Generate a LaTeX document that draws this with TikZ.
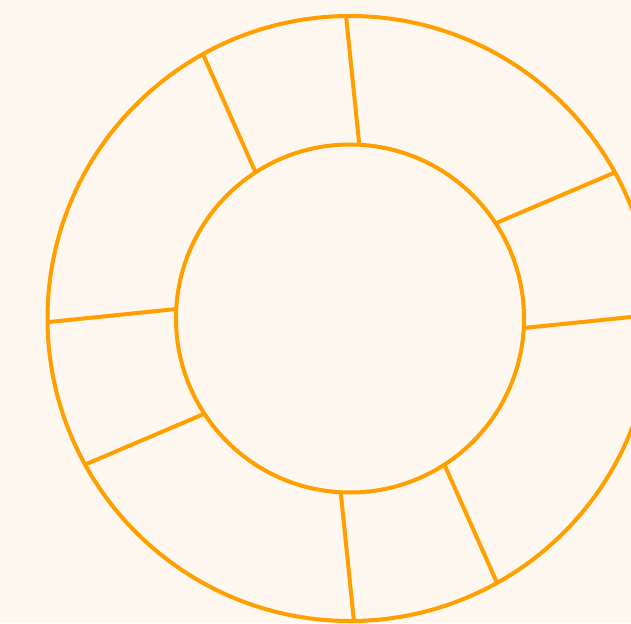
\documentclass[tikz,border=0pt]{standalone}
\usetikzlibrary{calc}
\definecolor{bgcream}{HTML}{FFF8F1}
\definecolor{ringorange}{HTML}{FFA000}
\begin{document}
\begin{tikzpicture}[x=1pt,y=-1pt,
  ring/.style={draw=ringorange, line width=4pt, circle, inner sep=0pt, outer sep=0pt},
  spoke/.style={draw=ringorange, line width=4pt}]
\useasboundingbox (0,0) rectangle (631,623);
\clip (0,0) rectangle (631,623);
\fill[bgcream] (0,0) rectangle (631,623);
\coordinate (c) at (350,318.5);
\node[ring, minimum size=605pt] (outerring) at (c) {};
\node[ring, minimum size=348pt] (innerring) at (c) {};
% spoke end points
\coordinate (i1) at (359.3,144.8); \coordinate (o1) at (346,15.5);
\coordinate (i2) at (255,171.1);   \coordinate (o2) at (203.3,54.9);
\coordinate (i3) at (176.4,309);   \coordinate (o3) at (47.3,322.2);
\coordinate (i4) at (203.3,414.2); \coordinate (o4) at (86,464.2);
\coordinate (i5) at (340.7,492.2); \coordinate (o5) at (354,621.5);
\coordinate (i6) at (445,465.9);   \coordinate (o6) at (496.7,582.1);
\coordinate (i7) at (523.6,328);   \coordinate (o7) at (652.7,314.8);
\coordinate (i8) at (496.7,222.8); \coordinate (o8) at (614,172.8);
\foreach \k in {1,...,8}{\draw[spoke] (i\k) -- (o\k);}
\end{tikzpicture}
\end{document}
